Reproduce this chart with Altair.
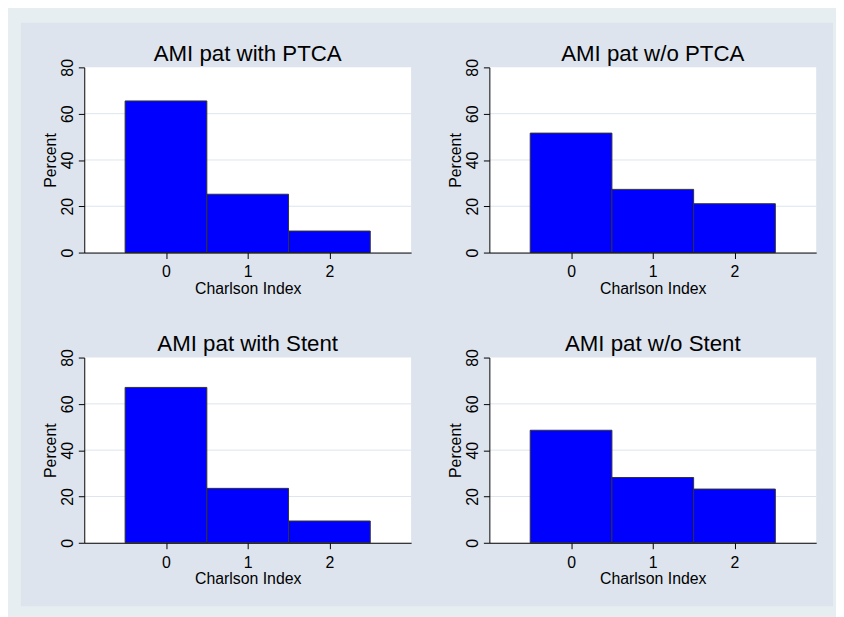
import altair as alt
import pandas as pd

# ---- data ----
charlson_index = [0, 1, 2]
panel_titles = ["AMI pat with PTCA", "AMI pat w/o PTCA",
                "AMI pat with Stent", "AMI pat w/o Stent"]
pct_with_ptca = [65.5, 25.2, 9.3]
pct_without_ptca = [51.6, 27.3, 21.1]
pct_with_stent = [67.1, 23.5, 9.4]
pct_without_stent = [48.6, 28.2, 23.2]
y_ticks = [0, 20, 40, 60, 80]
grid_values = [20, 40, 60]

FONT = "Liberation Sans"
W, H = 330, 187
OUTER = "#E7EEF1"
INNER = "#DDE4EE"
GRID = "#DDE5EE"
BAR = "#0000FF"

xscale = alt.Scale(domain=[-1, 3], nice=False, zero=False)
yscale = alt.Scale(domain=[0, 80], nice=False, zero=True)


def y_axis():
    return alt.Axis(values=y_ticks, title="Percent", grid=False, zindex=1,
                    tickSize=6, tickColor="black", domainColor="black",
                    labelColor="black", labelFont=FONT, labelFontSize=16,
                    labelAngle=270, labelAlign="center",
                    labelBaseline="alphabetic", labelPadding=6,
                    labelFlush=False,
                    titleFont=FONT, titleFontSize=16, titleFontWeight="normal",
                    titleColor="black", titleAngle=270, titleX=-29.5,
                    titleY=H / 2, titleBaseline="alphabetic",
                    titleAlign="center")


def x_axis():
    return alt.Axis(values=charlson_index, format="d", title="Charlson Index",
                    grid=False, zindex=1, tickSize=6, tickColor="black",
                    domainColor="black", labelColor="black", labelFont=FONT,
                    labelFontSize=16, labelBaseline="alphabetic",
                    labelPadding=18.5, labelFlush=False,
                    titleFont=FONT, titleFontSize=16, titleFontWeight="normal",
                    titleColor="black", titleX=W / 2, titleY=41.3,
                    titleBaseline="alphabetic", titleAlign="center")


def panel(title, values, first=False):
    df = pd.DataFrame({"ci": charlson_index, "pct": values})

    bars = alt.Chart(df).transform_calculate(
        lo="datum.ci - 0.5", hi="datum.ci + 0.5", base="0"
    ).mark_rect(color=BAR, stroke="#333333", strokeWidth=1).encode(
        x=alt.X("lo:Q", scale=xscale, axis=x_axis()),
        x2="hi:Q",
        y=alt.Y("pct:Q", scale=yscale, axis=y_axis()),
        y2="base:Q",
    )
    grid = alt.Chart(pd.DataFrame({"g": grid_values})).mark_rule(
        color=GRID, strokeWidth=1
    ).encode(
        y=alt.Y("g:Q", scale=yscale, axis=y_axis()),
        x=alt.value(0), x2=alt.value(W),
    )
    ttl = alt.Chart(pd.DataFrame({"t": [title]})).mark_text(
        font=FONT, fontSize=22.5, color="black", align="center",
        baseline="alphabetic"
    ).encode(text="t:N", x=alt.value(W / 2), y=alt.value(-6.7))

    layers = []
    if first:
        one = pd.DataFrame({"d": [0]})
        bg = alt.Chart(one).mark_rect(color=INNER).encode(
            x=alt.value(-64), x2=alt.value(756),
            y=alt.value(-45), y2=alt.value(544))
        white = alt.Chart(one).mark_rect(color="white").encode(
            x=alt.value(0), x2=alt.value(W), y=alt.value(0), y2=alt.value(H))
        layers += [bg, white]
    layers += [grid, bars, ttl]
    return alt.layer(*layers).properties(width=W, height=H)


p1 = panel(panel_titles[0], pct_with_ptca, first=True)
p2 = panel(panel_titles[1], pct_without_ptca)
p3 = panel(panel_titles[2], pct_with_stent)
p4 = panel(panel_titles[3], pct_without_stent)

chart = alt.concat(
    p1, p2, p3, p4, columns=2,
    spacing={"row": 106, "column": 79}, bounds="flush"
).properties(
    background=OUTER,
    padding={"left": 13, "top": 12, "right": 3, "bottom": 8},
).configure_view(fill="white", stroke=None)

chart.save("out.html", embed_options={"renderer": "svg", "actions": False})
